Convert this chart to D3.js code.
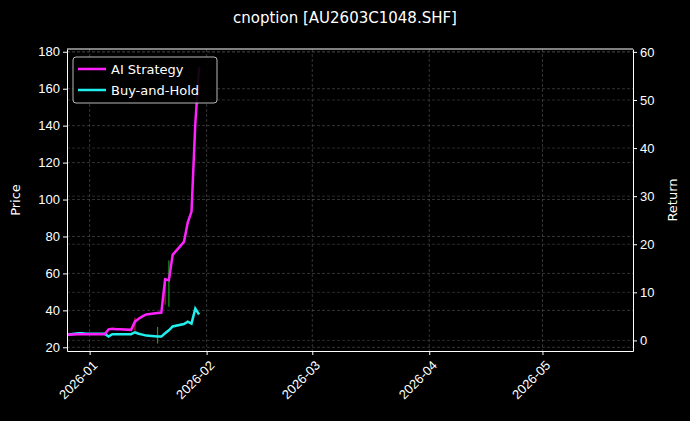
<!DOCTYPE html>
<html><head><meta charset="utf-8">
<script src="https://cdn.jsdelivr.net/npm/d3@7"></script>
<style>body{margin:0;background:#000}svg{font-family:"DejaVu Sans",sans-serif}</style>
</head><body><div id="chart"></div>
<script>
const dates = ["2025-12-26","2025-12-29","2025-12-30","2025-12-31","2026-01-02","2026-01-05","2026-01-06","2026-01-07","2026-01-08","2026-01-09","2026-01-12","2026-01-13","2026-01-14","2026-01-15","2026-01-16","2026-01-19","2026-01-20","2026-01-21","2026-01-22","2026-01-23","2026-01-26","2026-01-27","2026-01-28","2026-01-29","2026-01-30"];
const aiReturn = [1.2,1.3,1.3,1.3,1.3,1.3,2.3,2.4,2.3,2.3,2.2,3.9,4.5,5.0,5.4,5.7,5.8,12.7,12.5,17.8,20.5,24.5,26.8,45,56.8];
const bhReturn = [1.2,1.5,1.5,1.4,1.4,1.4,0.8,1.3,1.3,1.3,1.3,1.7,1.4,1.2,1.0,0.8,0.8,1.5,2.1,2.9,3.4,3.9,3.5,6.6,5.4];
// sparse candle wicks on the price axis
const candleDates = ["2026-01-13","2026-01-19","2026-01-21","2026-01-22"];
const candleHigh = [36,31,55,67];
const candleLow = [29,22,43,42];
const candleUp = [false,true,false,true];
const priceTicks = [20,40,60,80,100,120,140,160,180];
const returnTicks = [0,10,20,30,40,50,60];
const monthTicks = ["2026-01-01","2026-02-01","2026-03-01","2026-04-01","2026-05-01"];

const W = 690, H = 421, m = {top: 49, right: 57, bottom: 70, left: 67};
const w = W - m.left - m.right, h = H - m.top - m.bottom;
const parse = d3.utcParse("%Y-%m-%d");

const x = d3.scaleUtc().domain([parse("2025-12-26"), parse("2026-05-25")]).range([0, w]);
const yP = d3.scaleLinear().domain([18, 181.5]).range([h, 0]);
const yR = d3.scaleLinear().domain([-2.2, 60.6]).range([h, 0]);

const svg = d3.select("#chart").append("svg").attr("width", W).attr("height", H);
svg.append("rect").attr("width", W).attr("height", H).attr("fill", "#000");
const g = svg.append("g").attr("transform", `translate(${m.left},${m.top})`);

// grid
g.append("g").selectAll("line").data(priceTicks).join("line")
  .attr("x1", 0).attr("x2", w).attr("y1", d => yP(d)).attr("y2", d => yP(d))
  .attr("stroke", "#555").attr("stroke-dasharray", "3,2").attr("stroke-width", 0.6);
g.append("g").selectAll("line").data(returnTicks).join("line")
  .attr("x1", 0).attr("x2", w).attr("y1", d => yR(d)).attr("y2", d => yR(d))
  .attr("stroke", "#444").attr("stroke-dasharray", "3,2").attr("stroke-width", 0.6);
g.append("g").selectAll("line").data(monthTicks).join("line")
  .attr("y1", 0).attr("y2", h).attr("x1", d => x(parse(d))).attr("x2", d => x(parse(d)))
  .attr("stroke", "#555").attr("stroke-dasharray", "3,2").attr("stroke-width", 0.6);

// candles
g.append("g").selectAll("line").data(candleDates).join("line")
  .attr("x1", d => x(parse(d))).attr("x2", d => x(parse(d)))
  .attr("y1", (d, i) => yP(candleHigh[i])).attr("y2", (d, i) => yP(candleLow[i]))
  .attr("stroke", (d, i) => candleUp[i] ? "#1a9a1a" : "#c0202a").attr("stroke-width", 1.2);

const line = d3.line().x((d, i) => x(parse(dates[i]))).y(d => yR(d));
g.append("path").datum(bhReturn).attr("d", line).attr("fill", "none").attr("stroke", "#22eeee").attr("stroke-width", 2.5);
g.append("path").datum(aiReturn).attr("d", line).attr("fill", "none").attr("stroke", "#ff22ff").attr("stroke-width", 2.5);

// axes
const styleAxis = sel => {
  sel.selectAll("path,line").attr("stroke", "#fff");
  sel.selectAll("text").attr("fill", "#fff").style("font-size", "13px");
};
g.append("g").call(d3.axisLeft(yP).tickValues(priceTicks).tickSize(4).tickSizeOuter(0)).call(styleAxis);
g.append("g").attr("transform", `translate(${w},0)`)
  .call(d3.axisRight(yR).tickValues(returnTicks).tickSize(4).tickSizeOuter(0)).call(styleAxis);
const xa = g.append("g").attr("transform", `translate(0,${h})`)
  .call(d3.axisBottom(x).tickValues(monthTicks.map(parse)).tickFormat(d3.utcFormat("%Y-%m")).tickSize(4).tickSizeOuter(0))
  .call(styleAxis);
xa.selectAll("text").attr("text-anchor", "end").attr("dy", "0.35em").attr("y", 0)
  .attr("transform", "translate(5,12) rotate(-45)");
g.append("line").attr("x1", 0).attr("x2", w).attr("stroke", "#fff");

svg.append("text").attr("x", 16).attr("y", m.top + h / 2).attr("transform", `rotate(-90,16,${m.top + h / 2})`)
  .attr("text-anchor", "middle").attr("dominant-baseline", "middle").attr("fill", "#fff").style("font-size", "13px").text("Price");
svg.append("text").attr("x", 673).attr("y", m.top + h / 2).attr("transform", `rotate(-90,673,${m.top + h / 2})`)
  .attr("text-anchor", "middle").attr("dominant-baseline", "middle").attr("fill", "#fff").style("font-size", "13px").text("Return");
svg.append("text").attr("x", 345).attr("y", 23).attr("text-anchor", "middle").attr("fill", "#fff")
  .style("font-size", "15px").text("cnoption [AU2603C1048.SHF]");

// legend
const lg = g.append("g").attr("transform", "translate(6,8)");
lg.append("rect").attr("width", 144).attr("height", 46).attr("rx", 3).attr("fill", "#000").attr("stroke", "#ccc").attr("opacity", 0.9);
[["AI Strategy", "#ff22ff"], ["Buy-and-Hold", "#22eeee"]].forEach(([t, c], i) => {
  lg.append("line").attr("x1", 5).attr("x2", 33).attr("y1", 12 + i * 21).attr("y2", 12 + i * 21).attr("stroke", c).attr("stroke-width", 2.5);
  lg.append("text").attr("x", 38).attr("y", 17 + i * 21).attr("fill", "#fff").style("font-size", "13px").text(t);
});
</script></body></html>
